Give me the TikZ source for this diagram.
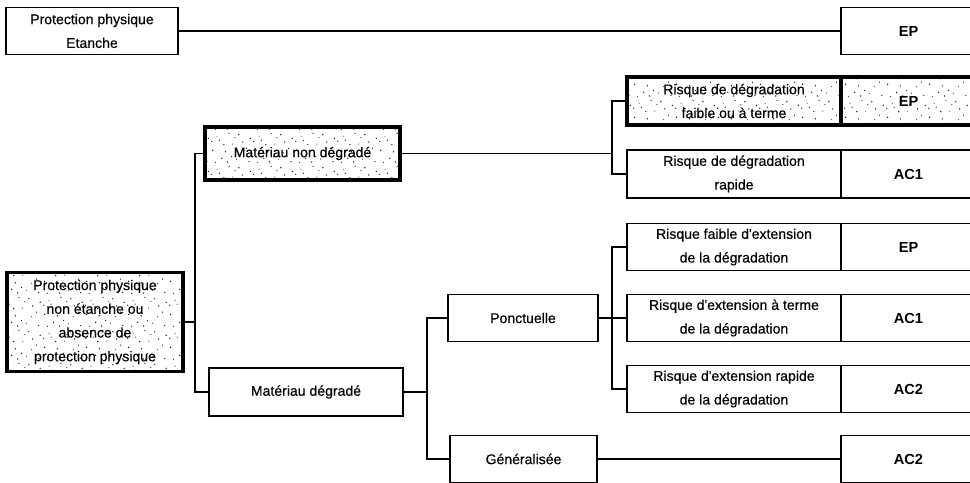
\documentclass[tikz,border=0pt]{standalone}
\usepackage{fontspec}
\setmainfont{Liberation Sans}
\newfontfamily\labelfont{Liberation Sans}[FakeBold=0.4]
\usetikzlibrary{positioning,patterns}

% sparse stippling for the highlighted boxes
\pgfdeclarepatternformonly{stipple}{\pgfqpoint{0pt}{0pt}}{\pgfqpoint{24pt}{18.7pt}}{\pgfqpoint{24pt}{18.7pt}}{%
  \pgfpathcircle{\pgfqpoint{1.5pt}{2.7pt}}{0.4pt}
  \pgfpathcircle{\pgfqpoint{5.3pt}{8.4pt}}{0.35pt}
  \pgfpathcircle{\pgfqpoint{8.9pt}{1.8pt}}{0.4pt}
  \pgfpathcircle{\pgfqpoint{13.2pt}{6.2pt}}{0.3pt}
  \pgfpathcircle{\pgfqpoint{16.7pt}{11.5pt}}{0.4pt}
  \pgfpathcircle{\pgfqpoint{21.1pt}{3.9pt}}{0.35pt}
  \pgfpathcircle{\pgfqpoint{3.1pt}{14.6pt}}{0.3pt}
  \pgfpathcircle{\pgfqpoint{6.8pt}{16.9pt}}{0.4pt}
  \pgfpathcircle{\pgfqpoint{11.0pt}{12.3pt}}{0.35pt}
  \pgfpathcircle{\pgfqpoint{15.3pt}{16.4pt}}{0.3pt}
  \pgfpathcircle{\pgfqpoint{18.9pt}{7.4pt}}{0.4pt}
  \pgfpathcircle{\pgfqpoint{22.5pt}{15.1pt}}{0.35pt}
  \pgfpathcircle{\pgfqpoint{4.1pt}{10.7pt}}{0.3pt}
  \pgfpathcircle{\pgfqpoint{8.0pt}{5.9pt}}{0.4pt}
  \pgfpathcircle{\pgfqpoint{12.5pt}{18.0pt}}{0.35pt}
  \pgfpathcircle{\pgfqpoint{18.3pt}{1.3pt}}{0.3pt}
  \pgfpathcircle{\pgfqpoint{23.3pt}{9.5pt}}{0.4pt}
  \pgfpathcircle{\pgfqpoint{1.0pt}{7.8pt}}{0.35pt}
  \pgfpathcircle{\pgfqpoint{14.4pt}{9.9pt}}{0.3pt}
  \pgfpathcircle{\pgfqpoint{10.2pt}{14.8pt}}{0.4pt}
  \pgfusepath{fill}}

\begin{document}
\begin{tikzpicture}[
  x=0.2mm, y=-0.2mm,
  box/.style={draw, line width=1pt, outer sep=0pt, inner sep=0pt, align=center, minimum height=9.4mm, font=\labelfont\fontsize{8}{13.5}\selectfont},
  key/.style={line width=2.2pt, pattern=stipple},
  risk/.style={box, minimum width=42.8mm},
  cell/.style={box, minimum width=27mm, font=\fontsize{8.3}{13.5}\selectfont\bfseries},
  link/.style={line width=0.8pt}
]
\useasboundingbox (0,0) rectangle (970,483);

% first level
\node[box, minimum width=34.4mm] (etanche) at (92,31) {Protection physique\\Etanche};
\node[cell] (epA) at (908.5,31) {EP};
\node[box, key, minimum width=35.2mm, minimum height=19.8mm] (absence) at (95,322) {Protection physique\\non étanche ou\\absence de\\protection physique};

% state of the material
\node[box, key, minimum width=39mm, minimum height=10.6mm] (nondeg) at (302.5,153.5) {Matériau non dégradé};
\node[box, minimum width=38.8mm, minimum height=9.6mm] (deg) at (306,392) {Matériau dégradé};
\node[box, minimum width=30mm] (ponct) at (523,318) {Ponctuelle};
\node[box, minimum width=29.4mm] (gener) at (523.5,459) {Généralisée};

% risks and resulting codes
\node[risk, key, minimum height=9.6mm] (lente) at (734,101) {Risque de dégradation\\faible ou à terme};
\node[cell, key, minimum height=9.6mm, right=0pt of lente] (ep1) {EP};
\node[risk, minimum height=9.6mm] (rapide) at (734,174) {Risque de dégradation\\rapide};
\node[cell, minimum height=9.6mm, right=0pt of rapide] (ac1a) {AC1};

\node[risk] (ext1) at (734,247) {Risque faible d'extension\\de la dégradation};
\node[cell, right=0pt of ext1] (ep2) {EP};
\node[risk] (ext2) at (734,318) {Risque d'extension à terme\\de la dégradation};
\node[cell, right=0pt of ext2] (ac1b) {AC1};
\node[risk] (ext3) at (734,389) {Risque d'extension rapide\\de la dégradation};
\node[cell, right=0pt of ext3] (ac2a) {AC2};
\node[cell] (ac2b) at (908.5,459) {AC2};

% spines of the brackets
\coordinate (s1) at (195,322);
\coordinate (s2) at (612,153.5);
\coordinate (s3) at (427,392);
\coordinate (s4) at (612,318);

\draw[link] (etanche.east) -- (epA.west);
\draw[link] (absence.east) -- (s1) |- (nondeg.west);
\draw[link] (s1) |- (deg.west);
\draw[link] (nondeg.east) -- (s2) |- (lente.west);
\draw[link] (s2) |- (rapide.west);
\draw[link] (deg.east) -- (s3) |- (ponct.west);
\draw[link] (s3) |- (gener.west);
\draw[link] (ponct.east) -- (s4) |- (ext1.west);
\draw[link] (s4) -- (ext2.west);
\draw[link] (s4) |- (ext3.west);
\draw[link] (gener.east) -- (ac2b.west);
\end{tikzpicture}
\end{document}
